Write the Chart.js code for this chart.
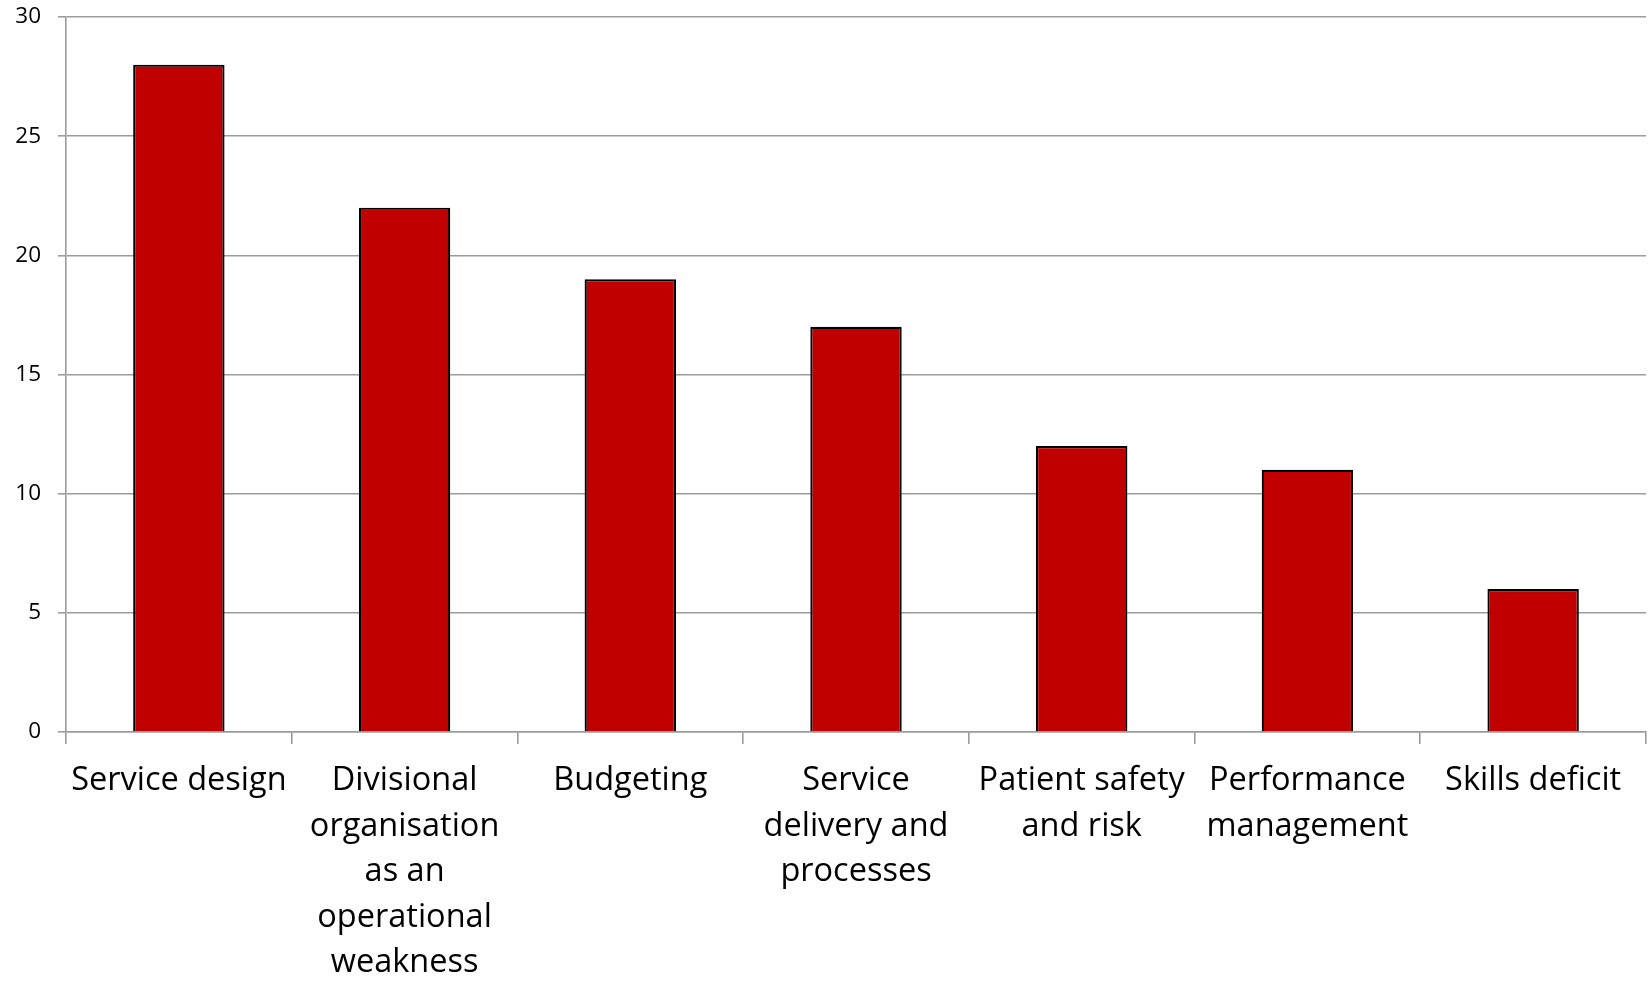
<!DOCTYPE html>
<html>
<head>
<meta charset="utf-8">
<script src="https://cdn.jsdelivr.net/npm/chart.js@4"></script>
<style>
  html, body { margin: 0; padding: 0; background: #fff; }
  #wrap { width: 1648px; height: 981px; position: relative; }
</style>
</head>
<body>
<div id="wrap"><canvas id="chart"></canvas></div>
<script>
// categories, values and y ticks
const categories = [
  ['Service design'],
  ['Divisional', 'organisation', 'as an', 'operational', 'weakness'],
  ['Budgeting'],
  ['Service', 'delivery and', 'processes'],
  ['Patient safety', 'and risk'],
  ['Performance', 'management'],
  ['Skills deficit']
];
const counts = [28, 22, 19, 17, 12, 11, 6];
const yMin = 0;
const yMax = 30;
const yStep = 5;

Chart.defaults.animation = false;
const gridGrey = '#9c9c9c';

const ctx = document.getElementById('chart').getContext('2d');
new Chart(ctx, {
  type: 'bar',
  data: {
    labels: categories,
    datasets: [{
      data: counts,
      backgroundColor: '#c00000',
      borderColor: '#000000',
      borderWidth: 2.2,
      barPercentage: 0.405,
      categoryPercentage: 1
    }]
  },
  options: {
    responsive: true,
    maintainAspectRatio: false,
    animation: false,
    layout: { padding: { top: 17, right: 2, left: 0, bottom: 0 } },
    plugins: {
      legend: { display: false },
      tooltip: { enabled: false }
    },
    scales: {
      x: {
        grid: {
          offset: true,
          drawOnChartArea: false,
          drawTicks: true,
          tickLength: 12,
          color: gridGrey,
          lineWidth: 1.6
        },
        border: { color: gridGrey, width: 1.6 },
        ticks: {
          autoSkip: false,
          maxRotation: 0,
          minRotation: 0,
          color: '#000',
          padding: 14,
          font: { family: 'Open Sans', size: 32.5, lineHeight: 1.40 }
        },
        afterFit: function(scale) {
          scale.height = 249;
          scale.paddingLeft = 0;
          scale.paddingRight = 0;
        }
      },
      y: {
        min: yMin,
        max: yMax,
        grid: {
          color: gridGrey,
          lineWidth: 1.6,
          tickLength: 8
        },
        border: { color: gridGrey, width: 1.6 },
        ticks: {
          stepSize: yStep,
          color: '#000',
          padding: 17,
          font: { family: 'Open Sans', size: 22.5 }
        },
        afterFit: function(scale) {
          scale.width = 66;
          // let the top label be clipped like in the reference
          scale.paddingTop = 0;
          scale.paddingBottom = 0;
        }
      }
    }
  }
});
</script>
</body>
</html>
